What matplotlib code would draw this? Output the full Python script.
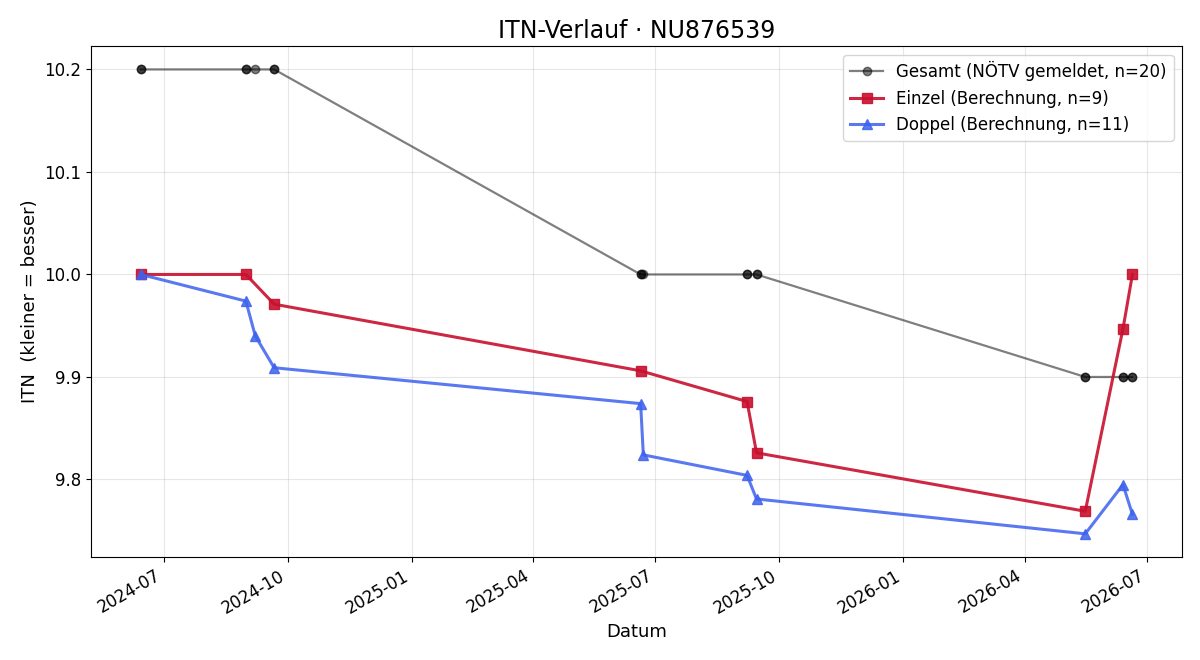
import pandas as pd
import matplotlib
matplotlib.use("Agg")
import matplotlib.pyplot as plt
import matplotlib.dates as mdates

# Einzel (singles) calculation
einzel_dates = ["2024-06-14", "2024-08-31", "2024-09-21", "2025-06-20", "2025-09-07",
                "2025-09-14", "2026-05-16", "2026-06-13", "2026-06-20"]
einzel_itn = [10.0, 10.0, 9.971, 9.906, 9.876, 9.826, 9.769, 9.947, 10.0]

# Doppel (doubles) calculation
doppel_dates = ["2024-06-14", "2024-08-31", "2024-09-07", "2024-09-21", "2025-06-20",
                "2025-06-22", "2025-09-07", "2025-09-14", "2026-05-16", "2026-06-13",
                "2026-06-20"]
doppel_itn = [10.0, 9.974, 9.940, 9.909, 9.874, 9.824, 9.804, 9.781, 9.747, 9.795, 9.766]

# reported overall ITN (one entry per match)
gesamt_dates = ["2024-06-14", "2024-06-14", "2024-08-31", "2024-08-31", "2024-09-07",
                "2024-09-21", "2024-09-21", "2025-06-20", "2025-06-20", "2025-06-22",
                "2025-09-07", "2025-09-07", "2025-09-14", "2025-09-14", "2026-05-16",
                "2026-05-16", "2026-06-13", "2026-06-13", "2026-06-20", "2026-06-20"]
gesamt_itn = [10.2, 10.2, 10.2, 10.2, 10.2, 10.2, 10.2, 10.0, 10.0, 10.0,
              10.0, 10.0, 10.0, 10.0, 9.9, 9.9, 9.9, 9.9, 9.9, 9.9]

fig, ax = plt.subplots(figsize=(12, 6.6), dpi=100)

ax.plot(pd.to_datetime(gesamt_dates), gesamt_itn, color="black", alpha=0.5,
        marker="o", markersize=6, linewidth=1.6,
        label=f"Gesamt (NÖTV gemeldet, n={len(gesamt_itn)})")
ax.plot(pd.to_datetime(einzel_dates), einzel_itn, color="#c8102e", alpha=0.9,
        marker="s", markersize=7, linewidth=2.2,
        label=f"Einzel (Berechnung, n={len(einzel_itn)})")
ax.plot(pd.to_datetime(doppel_dates), doppel_itn, color="#3d62ee", alpha=0.85,
        marker="^", markersize=7, linewidth=2.2,
        label=f"Doppel (Berechnung, n={len(doppel_itn)})")

ax.set_title("ITN-Verlauf · NU876539", fontsize=17)
ax.set_xlabel("Datum", fontsize=13)
ax.set_ylabel("ITN  (kleiner = besser)", fontsize=13)
ax.tick_params(labelsize=12)
ax.grid(True, alpha=0.3)
ax.legend(loc="upper right", fontsize=12)

ax.xaxis.set_major_locator(mdates.MonthLocator(bymonth=[1, 4, 7, 10]))
ax.xaxis.set_major_formatter(mdates.DateFormatter("%Y-%m"))
fig.autofmt_xdate()

fig.subplots_adjust(left=0.076, right=0.985, top=0.930, bottom=0.156)
plt.savefig("out.png")
